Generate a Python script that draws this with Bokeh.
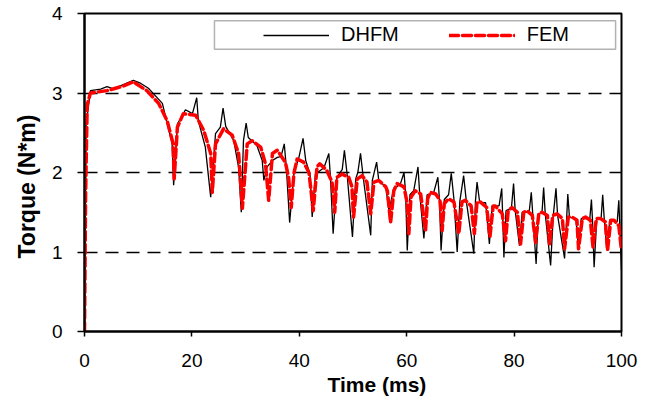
from bokeh.plotting import figure
from bokeh.models import Range1d, FixedTicker, Legend, LegendItem, Title, BoxAnnotation
from bokeh.embed import file_html
from bokeh.resources import INLINE

# ---- data ----
time_dhfm = [0, 0.3, 1.1, 3.0, 4.2, 5.5, 7.0, 9.1, 10.5, 11.9, 13.0, 14.5, 15.7, 16.3, 16.6,
             17.3, 18.8, 20.1, 20.9, 21.2, 22.5, 23.5, 24.4, 25.3, 25.8, 26.3, 27.8, 28.7, 29.2,
             29.6, 30.1, 30.5, 32.1, 33.1, 33.4, 34.0, 35.0, 35.9, 36.6, 37.2, 37.6, 38.2, 39.0,
             39.9, 40.7, 41.2, 42.0, 42.4, 43.0, 44.6, 45.5, 45.8, 46.3, 47.0, 48.0, 48.4, 48.9,
             49.9, 50.5, 50.9, 51.4, 51.9, 53.3, 53.6, 54.4, 54.8, 56.1, 56.7, 57.6, 58.8, 59.5,
             59.8, 60.1, 60.6, 61.3, 62.1, 62.4, 63.2, 63.8, 65.0, 65.8, 66.1, 66.4, 67.0, 67.8,
             68.3, 68.8, 69.4, 69.9, 70.6, 71.1, 72.5, 72.8, 73.1, 73.6, 74.7, 75.4, 75.9, 77.2,
             77.7, 77.85, 78.1, 78.5, 79.5, 79.9, 80.2, 81.0, 81.5, 82.8, 83.2, 83.5, 84.1, 84.5,
             85.2, 85.5, 85.8, 86.8, 87.3, 87.8, 88.1, 89.4, 89.8, 90.0, 90.3, 91.5, 92.0, 92.5,
             94.1, 94.4, 94.6, 94.9, 95.4, 96.2, 96.5, 96.8, 97.3, 97.8, 99.2, 99.5, 99.7, 100]
torque_dhfm = [0, 2.6, 3.03, 3.05, 3.08, 3.05, 3.10, 3.16, 3.12, 3.06, 2.98, 2.87, 2.53, 2.38, 1.84,
               2.61, 2.79, 2.74, 2.94, 2.65, 2.32, 1.69, 2.49, 2.57, 2.81, 2.58, 2.40, 2.06, 1.50,
               2.40, 2.62, 2.44, 2.34, 2.15, 1.90, 2.07, 2.15, 2.19, 2.20, 2.36, 2.05, 1.37, 2.00,
               2.18, 2.43, 2.15, 1.98, 1.44, 1.98, 2.06, 2.24, 1.94, 1.23, 1.94, 2.04, 2.28, 1.98,
               1.19, 1.92, 2.00, 2.24, 1.94, 1.21, 1.90, 2.13, 1.90, 1.82, 1.52, 1.80, 1.85, 2.00,
               1.74, 1.02, 1.72, 1.77, 2.07, 1.75, 1.17, 1.72, 1.74, 1.94, 1.66, 1.02, 1.66, 1.72,
               1.99, 1.66, 1.00, 1.64, 1.96, 1.64, 0.98, 1.64, 1.88, 1.62, 1.62, 1.10, 1.58, 1.58,
               1.80, 1.50, 0.93, 1.52, 1.55, 1.86, 1.52, 1.08, 1.50, 1.50, 1.75, 1.45, 0.85, 1.48,
               1.50, 1.81, 1.48, 0.83, 1.46, 1.80, 1.46, 0.92, 1.44, 1.73, 1.44, 1.42, 1.04, 1.42,
               1.42, 1.66, 1.40, 0.81, 1.42, 1.42, 1.72, 1.40, 1.02, 1.40, 1.38, 1.65, 1.30, 0.77]

time_fem = [0, 0.2, 0.5, 1.1, 4.2, 7.3, 9.1, 11.6, 13.8, 15.4, 16.5, 16.7, 17.3, 18.4, 20.7,
            22.2, 23.5, 23.8, 24.4, 25.9, 27.5, 28.7, 29.4, 30.3, 31.2, 32.8, 33.7, 34.3, 35.0,
            35.9, 37.4, 38.0, 38.5, 39.0, 39.6, 40.8, 41.8, 42.6, 43.3, 43.8, 45.1, 46.1, 46.6,
            47.0, 48.0, 49.2, 49.8, 50.1, 50.8, 51.7, 52.6, 53.3, 53.9, 54.8, 56.1, 56.4, 57.0,
            57.6, 58.2, 59.5, 60.1, 60.4, 60.8, 61.6, 62.6, 63.5, 63.9, 64.4, 65.4, 66.2, 66.6,
            67.0, 67.8, 68.8, 69.7, 70.3, 70.9, 72.0, 72.6, 73.1, 73.7, 74.9, 75.5, 76.1, 76.5,
            77.8, 78.4, 78.9, 79.6, 80.6, 81.2, 81.8, 82.4, 83.4, 84.0, 84.6, 85.2, 86.2, 86.6,
            87.2, 88.0, 89.0, 89.4, 90.1, 90.8, 91.7, 92.0, 92.7, 93.3, 94.2, 94.7, 95.3, 96.1,
            97.0, 97.4, 98.0, 98.6, 99.5, 100]
torque_fem = [0, 1.7, 2.85, 3.0, 3.03, 3.09, 3.14, 3.03, 2.87, 2.65, 2.36, 1.92, 2.57, 2.74, 2.72,
              2.53, 2.24, 1.75, 2.36, 2.55, 2.47, 2.24, 1.55, 2.36, 2.40, 2.32, 2.11, 1.65, 2.24,
              2.28, 2.13, 1.94, 1.56, 1.99, 2.17, 2.13, 2.00, 1.52, 2.07, 2.11, 2.03, 1.88, 1.50,
              1.94, 1.98, 1.94, 1.82, 1.44, 1.92, 1.96, 1.88, 1.48, 1.88, 1.90, 1.82, 1.77, 1.37,
              1.77, 1.86, 1.82, 1.61, 1.23, 1.69, 1.77, 1.73, 1.27, 1.67, 1.75, 1.73, 1.65, 1.27,
              1.61, 1.67, 1.63, 1.23, 1.63, 1.65, 1.58, 1.23, 1.63, 1.63, 1.56, 1.19, 1.58, 1.58,
              1.48, 1.14, 1.52, 1.56, 1.50, 1.10, 1.50, 1.52, 1.46, 1.12, 1.48, 1.50, 1.46, 1.10,
              1.46, 1.48, 1.42, 1.04, 1.44, 1.44, 1.40, 1.04, 1.42, 1.44, 1.40, 1.06, 1.42, 1.42,
              1.38, 1.02, 1.40, 1.40, 1.33, 1.02]

x_ticks = [0, 20, 40, 60, 80, 100]
y_ticks = [0, 1, 2, 3, 4]
y_grid_values = [1, 2, 3]
series_names = ["DHFM", "FEM"]
x_title = "Time (ms)"
y_title = "Torque (N*m)"

FONT = "Liberation Sans"

p = figure(width=653, height=403, output_backend="svg", toolbar_location=None,
           x_range=Range1d(0, 100), y_range=Range1d(0, 4),
           min_border_left=84, min_border_right=32, min_border_top=13, min_border_bottom=72)
p.background_fill_color = "white"
p.border_fill_color = "white"
p.outline_line_color = "black"
p.outline_line_width = 2

# axes
p.xaxis.ticker = FixedTicker(ticks=x_ticks)
p.yaxis.ticker = FixedTicker(ticks=y_ticks)
for ax in (p.xaxis[0], p.yaxis[0]):
    ax.axis_line_color = "black"
    ax.axis_line_width = 2
    ax.major_tick_line_color = "black"
    ax.major_tick_line_width = 1.5
    ax.major_tick_in = 0
    ax.minor_tick_line_color = None
    ax.major_label_text_font = FONT
    ax.major_label_text_font_size = "19px"
    ax.major_label_text_color = "black"
p.xaxis.major_tick_out = 5
p.yaxis.major_tick_out = 7
p.xaxis.major_label_standoff = 17
p.yaxis.major_label_standoff = 15

# grids
p.xgrid.grid_line_color = None
p.ygrid.ticker = FixedTicker(ticks=y_grid_values)
p.ygrid.grid_line_color = "black"
p.ygrid.grid_line_width = 1.6
p.ygrid.grid_line_dash = "13 8"

# series
r_dhfm = p.line(time_dhfm, torque_dhfm, line_color="black", line_width=1.3)
r_fem = p.line(time_fem, torque_fem, line_color="#ff0000", line_width=3.5,
               line_dash="9 4", line_cap="round", line_join="round")

# legend frame
box = BoxAnnotation(left=24.2, right=98.9, bottom=3.55, top=3.91,
                    fill_color="white", fill_alpha=1.0,
                    line_color="black", line_width=1.5)
p.add_layout(box)

legend = Legend(items=[LegendItem(label=series_names[0], renderers=[r_dhfm]),
                       LegendItem(label=series_names[1], renderers=[r_fem])],
                orientation="horizontal", location=(179, 285),
                glyph_width=66, glyph_height=20, label_height=20,
                label_standoff=12, spacing=50, padding=2, margin=0,
                border_line_color=None, background_fill_alpha=0,
                label_text_font=FONT, label_text_font_size="20px",
                label_text_color="black")
p.add_layout(legend)

# axis titles
p.add_layout(Title(text=x_title, align="left", offset=243, standoff=2,
                   text_font=FONT, text_font_size="21px", text_font_style="bold",
                   text_color="black"), "below")
p.add_layout(Title(text=y_title, align="left", offset=73, standoff=17,
                   text_font=FONT, text_font_size="23px", text_font_style="bold",
                   text_color="black"), "left")

open("out.html", "w").write(file_html(p, INLINE))
